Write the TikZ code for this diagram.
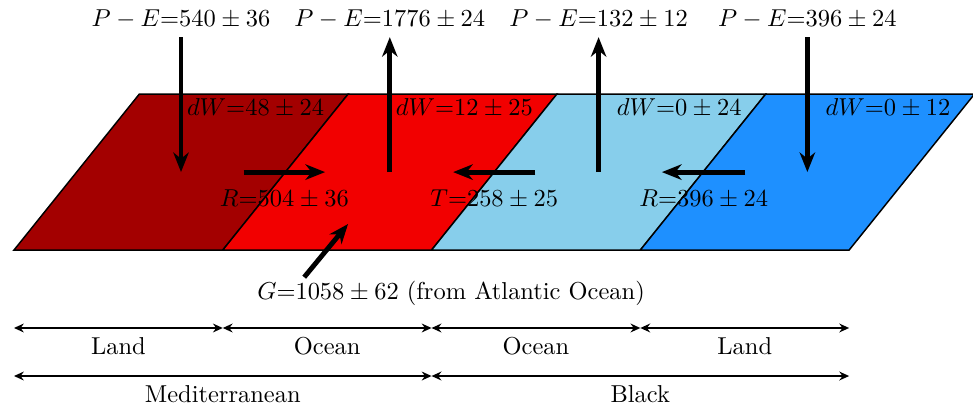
\documentclass[tikz,border=0pt]{standalone}
\usepackage{amssymb,amsmath}
\usepackage{xcolor}
\usetikzlibrary{positioning,arrows.meta,calc}
\definecolor{medLand}{HTML}{A30000}
\definecolor{medSea}{HTML}{F20000}
\definecolor{blkSea}{HTML}{87CEEB}
\definecolor{blkLand}{HTML}{1E90FF}

\begin{document}
\begin{tikzpicture}[
  strip/.style={draw=black, semithick},
  flux/.style={-{Stealth[length=8pt, width=6.3pt, inset=2.5pt]}, line width=2pt},
  span/.style={{Stealth[length=4pt, width=3.6pt, inset=1.3pt]}-{Stealth[length=4pt, width=3.6pt, inset=1.3pt]}, thick},
  dwlab/.style={anchor=east}
]
  \useasboundingbox (-0.201,-2.314) rectangle (13.78,3.593);
  % four basins as slanted strips
  \foreach \i/\col in {0/medLand, 1/medSea, 2/blkSea, 3/blkLand} {
     \filldraw[strip, fill=\col] (\i*3,0) -- ++(3,0) -- ++(1.8,2.24) -- ++(-3,0) -- cycle;
  }
  % precipitation minus evaporation
  \foreach \i/\x/\val in {1/2.4/540\pm 36, 2/5.4/1776\pm 24,
                          3/8.4/132\pm 12, 4/11.4/396\pm 24} {
     \coordinate (pt\i) at (\x,3.06);
     \coordinate (pb\i) at (\x,1.12);
     \node[above] (pe\i) at (pt\i) {$P-E$=$\val$};
  }
  \draw[flux] (pt1) -- (pb1);
  \draw[flux] (pb2) -- (pt2);
  \draw[flux] (pb3) -- (pt3);
  \draw[flux] (pt4) -- (pb4);
  % storage change
  \foreach \i/\val in {0/48\pm 24, 1/12\pm 25, 2/0\pm 24, 3/0\pm 12} {
     \node[dwlab] (dw\i) at (4.58+\i*3, 2.04) {$dW$=$\val$};
  }
  % lateral transports
  \coordinate (ra) at (3.3,1.12);  \coordinate (rb) at (4.47,1.12);
  \coordinate (ta) at (7.49,1.12); \coordinate (tb) at (6.31,1.12);
  \coordinate (sa) at (10.51,1.12); \coordinate (sb) at (9.31,1.12);
  \draw[flux] (ra) -- (rb) node[midway, below=3pt] (rlab) {$R$=$504\pm 36$};
  \draw[flux] (ta) -- (tb) node[midway, below=3pt] (tlab) {$T$=$258\pm 25$};
  \draw[flux] (sa) -- (sb) node[midway, below=3pt] (slab) {$R$=$396\pm 24$};
  % Gibraltar inflow
  \node (glab) at (6.28,-0.62) {$G$=$1058\pm 62$ (from Atlantic Ocean)};
  \coordinate (ga) at (4.17,-0.39);
  \coordinate (gb) at (4.80,0.374);
  \draw[flux] (ga) -- (gb);
  % extents
  \foreach \i in {0,...,4} { \coordinate (b\i) at (\i*3,-1.12); }
  \foreach \i in {0,1,2} { \coordinate (c\i) at (\i*6,-1.81); }
  \draw[span] (b0) -- (b1) node[midway, below] {Land};
  \draw[span] (b1) -- (b2) node[midway, below] {Ocean};
  \draw[span] (b2) -- (b3) node[midway, below] {Ocean};
  \draw[span] (b3) -- (b4) node[midway, below] {Land};
  \draw[span] (c0) -- (c1) node[midway, below] {Mediterranean};
  \draw[span] (c1) -- (c2) node[midway, below] {Black};
\end{tikzpicture}
\end{document}
